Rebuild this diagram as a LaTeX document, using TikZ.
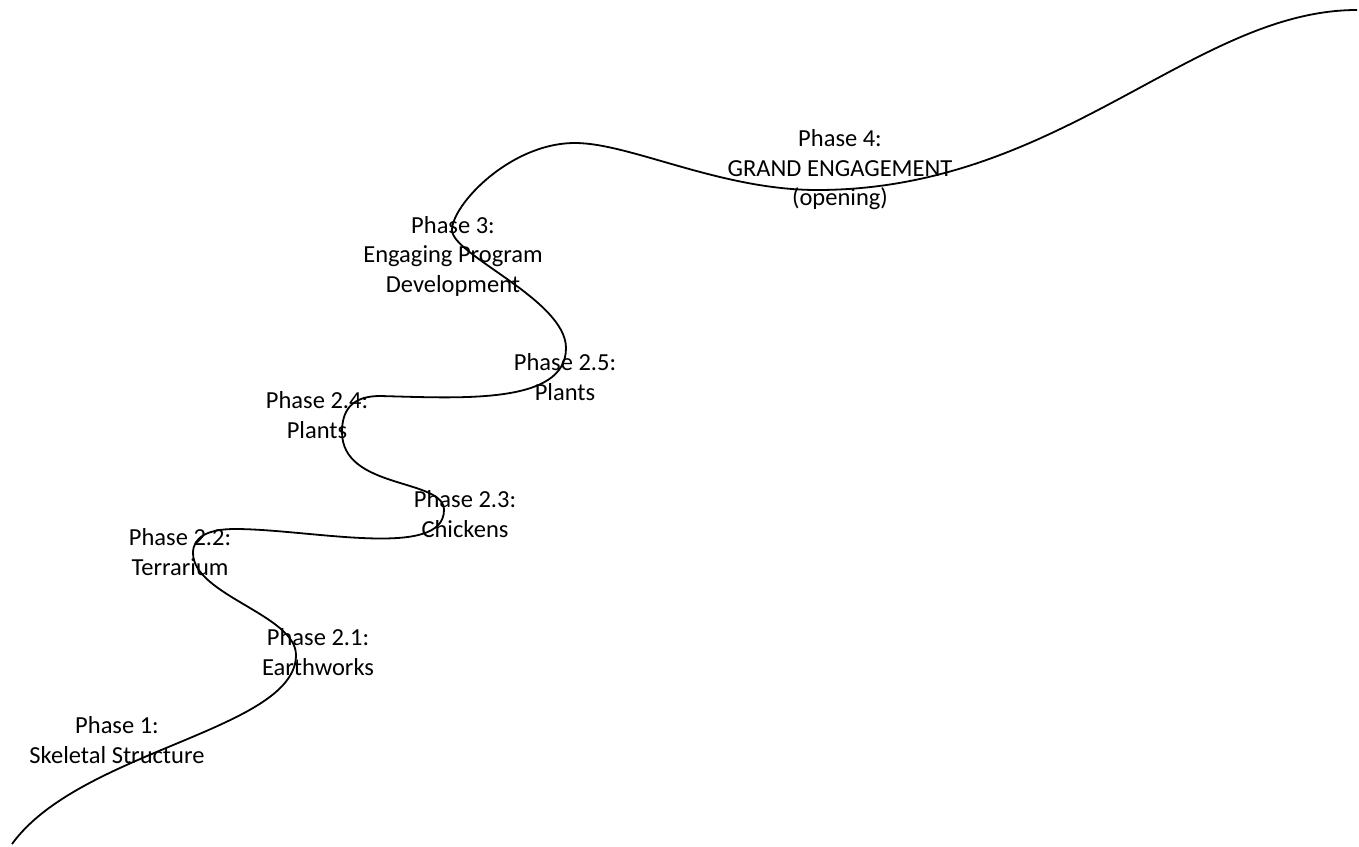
\documentclass[tikz,border=0pt]{standalone}
\usepackage{fontspec}
\setmainfont{Carlito}
\begin{document}
\begin{tikzpicture}[x=1pt,y=-1pt,
  lbl/.style={align=center,inner sep=0pt,font=\fontsize{24.5}{29.5}\selectfont},
  road/.style={line width=1.8pt,black}]
\useasboundingbox (0,0) rectangle (1359,846);
\coordinate (s) at (12,844);
\coordinate (a) at (296,655);
\coordinate (b) at (193,553);
\coordinate (t1) at (235,529);
\coordinate (c) at (444,510);
\coordinate (d) at (342,432);
\coordinate (e) at (380,396);
\coordinate (f) at (566,348);
\coordinate (g) at (452,230);
\coordinate (h) at (575,143);
\coordinate (i) at (817,190);
\coordinate (j) at (1357,10);
\draw[road] (s) .. controls (80,750) and (296,730) .. (a)
  .. controls (296,615) and (193,595) .. (b)
  .. controls (193,537) and (208,529) .. (t1)
  .. controls (310,529) and (444,560) .. (c)
  .. controls (444,478) and (342,490) .. (d)
  .. controls (342,410) and (352,396) .. (e)
  .. controls (460,398) and (566,405) .. (f)
  .. controls (566,300) and (452,255) .. (g)
  .. controls (452,205) and (510,143) .. (h)
  .. controls (630,143) and (720,190) .. (i)
  .. controls (1060,190) and (1194,10) .. (j);
\node[lbl] (p4) at (840,170) {Phase 4:\\GRAND ENGAGEMENT\\(opening)};
\node[lbl] (p3) at (453,256) {Phase 3:\\Engaging Program\\Development};
\node[lbl] (p25) at (565,377) {Phase 2.5:\\Plants};
\node[lbl] (p24) at (317,415) {Phase 2.4:\\Plants};
\node[lbl] (p23) at (465,514) {Phase 2.3:\\Chickens};
\node[lbl] (p22) at (180,552) {Phase 2.2:\\Terrarium};
\node[lbl] (p21) at (318,652) {Phase 2.1:\\Earthworks};
\node[lbl] (p1) at (117,740) {Phase 1:\\Skeletal Structure};
\end{tikzpicture}
\end{document}
